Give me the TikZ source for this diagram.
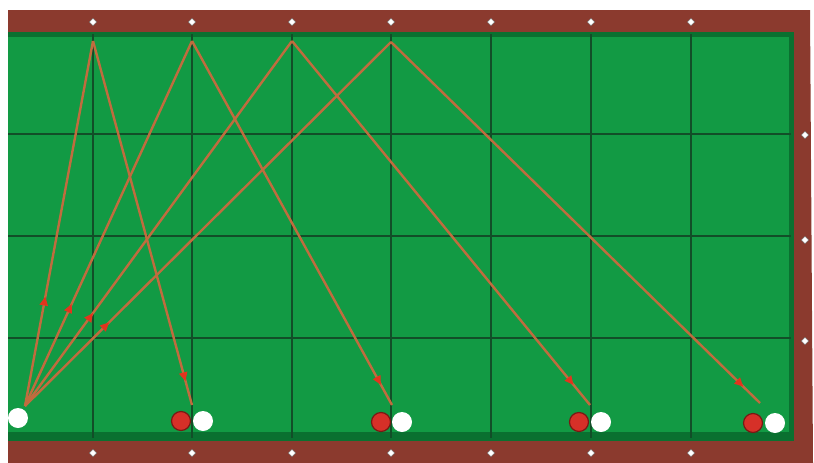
\documentclass[tikz,border=0pt]{standalone}
\usetikzlibrary{arrows.meta,decorations.markings,shapes.geometric}
\definecolor{rail}{RGB}{139,58,46}
\definecolor{cloth}{RGB}{18,154,68}
\definecolor{clothdark}{RGB}{10,112,48}
\definecolor{gridc}{RGB}{18,78,40}
\definecolor{pathc}{RGB}{192,108,62}
\definecolor{arrowc}{RGB}{226,52,30}
\definecolor{redball}{RGB}{214,48,40}
\definecolor{rededge}{RGB}{120,25,20}
\tikzset{
  diam/.style={diamond,fill=white,draw=black!60,line width=0.3pt,inner sep=0pt,minimum size=7.5pt},
  whiteball/.style={circle,fill=white,inner sep=0pt,minimum size=20pt},
  redb/.style={circle,fill=redball,draw=rededge,line width=1.2pt,inner sep=0pt,minimum size=19pt},
  shot/.style={draw=pathc,line width=2.4pt},
  markat/.style={postaction={decorate},decoration={markings,mark=at position #1 with {\arrow{Triangle[length=9pt,width=8pt,fill=arrowc,color=arrowc]}}}}
}
\begin{document}
\begin{tikzpicture}[x=1pt,y=-1pt]
\useasboundingbox (0,0) rectangle (814,463);
\fill[white] (0,0) rectangle (814,463);
% rail
\fill[rail] (8,10) -- (810,10) -- (813,463) -- (8,463) -- cycle;
% cloth
\fill[clothdark] (8,32) rectangle (794,441);
\fill[cloth] (8,37) rectangle (789,432);
% grid
\foreach \x in {93,192,292,391,491,591,691}
  \draw[gridc,line width=1.3pt] (\x,34) -- (\x,438);
\foreach \y in {134,236,338}
  \draw[gridc,line width=1.3pt] (8,\y) -- (791,\y);
% diamonds
\foreach \x [count=\i] in {93,192,292,391,491,591,691} {
  \node[diam] (dt\i) at (\x,22) {};
  \node[diam] (db\i) at (\x,453) {};
}
\foreach \y [count=\i] in {135,240,341}
  \node[diam] (dr\i) at (805,\y) {};
% balls
\node[whiteball] (cue) at (18,418) {};
\node[redb] (r1) at (181,421) {};
\node[whiteball] (w1) at (203,421) {};
\node[redb] (r2) at (381,422) {};
\node[whiteball] (w2) at (402,422) {};
\node[redb] (r3) at (579,422) {};
\node[whiteball] (w3) at (601,422) {};
\node[redb] (r4) at (753,423) {};
\node[whiteball] (w4) at (775,423) {};
% points
\coordinate (s) at (25,406);
\coordinate (t1) at (93,41);
\coordinate (t2) at (192,41);
\coordinate (t3) at (292,41);
\coordinate (t4) at (391,42);
\coordinate (e1) at (192,405);
\coordinate (e2) at (392,405);
\coordinate (e3) at (590,405);
\coordinate (e4) at (760,403);
% shots
\draw[shot,markat=0.30] (s) -- (t1);
\draw[shot,markat=0.28] (s) -- (t2);
\draw[shot,markat=0.255] (s) -- (t3);
\draw[shot,markat=0.23] (s) -- (t4);
\draw[shot,markat=0.935] (t1) -- (e1);
\draw[shot,markat=0.945] (t2) -- (e2);
\draw[shot,markat=0.945] (t3) -- (e3);
\draw[shot,markat=0.955] (t4) -- (e4);
\end{tikzpicture}
\end{document}
